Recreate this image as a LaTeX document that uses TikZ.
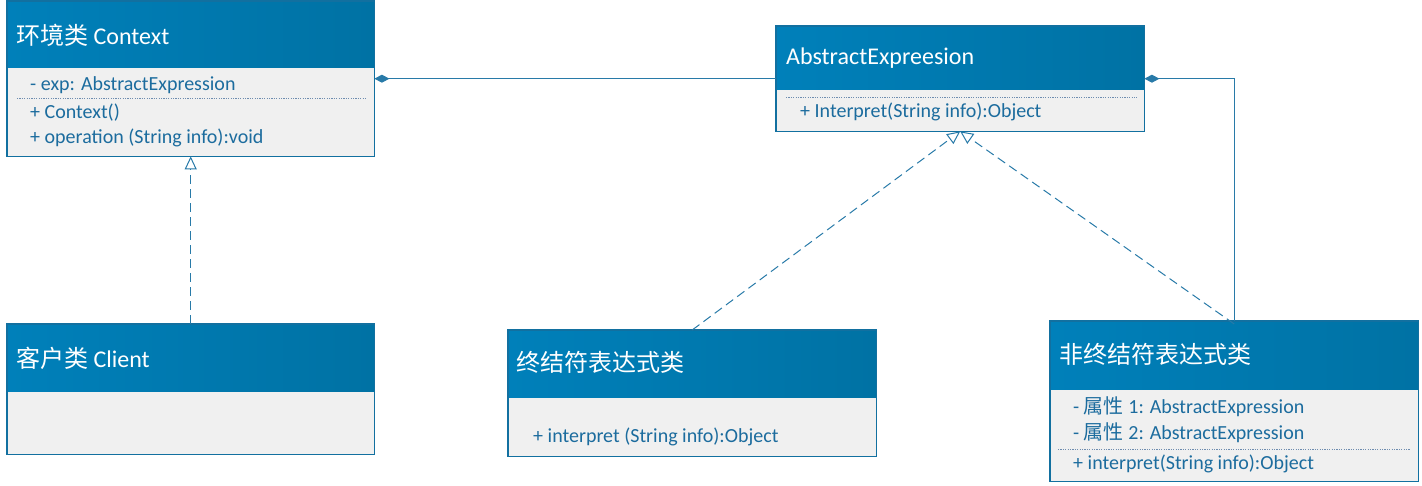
\documentclass[tikz,border=0pt]{standalone}
\usepackage{fontspec}
\setmainfont{Carlito}
\newfontfamily\cjkfont{Noto Sans CJK SC}
\newcommand\zh[1]{{\cjkfont #1}}
\usetikzlibrary{arrows.meta}
\definecolor{hdrL}{RGB}{0,128,186}
\definecolor{hdrR}{RGB}{0,114,164}
\definecolor{bodybg}{RGB}{240,240,240}
\definecolor{edge}{RGB}{18,112,160}
\definecolor{txt}{RGB}{28,108,158}
\definecolor{wire}{RGB}{40,122,168}
\definecolor{sep}{RGB}{110,140,175}
\tikzset{
  classbox/.style={rectangle, fill=bodybg, inner sep=0pt, anchor=north west},
  border/.style={draw=edge, line width=1.6pt},
  hdr/.style={left color=hdrL, right color=hdrR},
  title/.style={anchor=west, text=white, font=\fontsize{24}{27}\selectfont, inner sep=0pt},
  member/.style={anchor=west, text=txt, font=\fontsize{20}{23}\selectfont, inner sep=0pt},
  sepline/.style={draw=sep, line width=1pt, dash pattern=on 1.2pt off 1.2pt},
  wireline/.style={draw=wire, line width=1pt},
  realize/.style={wireline, dash pattern=on 9pt off 5pt, -{Triangle[open, length=13pt, width=12pt, fill=white, line width=1pt]}},
  compo/.style={wireline, {Diamond[length=15pt, width=8pt, fill=wire]}-},
}
\begin{document}
\begin{tikzpicture}[x=1pt, y=-1pt]
\useasboundingbox (0,0) rectangle (1422,486);

% Context
\node[classbox, minimum width=367pt, minimum height=155pt] (ctx) at (7,1) {};
\shade[hdr] (ctx.north west) rectangle ++(367,67);
\draw[border] (ctx.north west) rectangle (ctx.south east);
\node[title] (ctxT) at (16,35) {\zh{环境类} Context};
\node[member] (ctxA) at (30,85) {- exp: AbstractExpression};
\draw[sepline] (17,99) -- (366,99);
\node[member] (ctxM1) at (30,113) {+ Context()};
\node[member] (ctxM2) at (30,138) {+ operation (String info):void};

% AbstractExpression
\node[classbox, minimum width=368pt, minimum height=105pt] (ae) at (776,26) {};
\shade[hdr] (ae.north west) rectangle ++(368,64);
\draw[border] (ae.north west) rectangle (ae.south east);
\node[title] (aeT) at (786,58) {AbstractExpreesion};
\draw[sepline] (786,98) -- (1137,98);
\node[member] (aeM) at (800,112) {+ Interpret(String info):Object};

% Client
\node[classbox, minimum width=367pt, minimum height=130pt] (cl) at (7,324) {};
\shade[hdr] (cl.north west) rectangle ++(367,67);
\draw[border] (cl.north west) rectangle (cl.south east);
\node[title] (clT) at (16,358) {\zh{客户类} Client};

% Terminal expression
\node[classbox, minimum width=368pt, minimum height=126pt] (te) at (508,330) {};
\shade[hdr] (te.north west) rectangle ++(368,67);
\draw[border] (te.north west) rectangle (te.south east);
\node[title] (teT) at (516,362) {\zh{终结符表达式类}};
\node[member] (teM) at (533,437) {+ interpret (String info):Object};

% Nonterminal expression
\node[classbox, minimum width=368pt, minimum height=160pt] (nt) at (1050,321) {};
\shade[hdr] (nt.north west) rectangle ++(368,68);
\draw[border] (nt.north west) rectangle (nt.south east);
\node[title] (ntT) at (1059,354) {\zh{非终结符表达式类}};
\node[member] (ntA1) at (1073,407) {- \zh{属性} 1: AbstractExpression};
\node[member] (ntA2) at (1073,433) {- \zh{属性} 2: AbstractExpression};
\draw[sepline] (1058,449) -- (1410,449);
\node[member] (ntM) at (1073,464) {+ interpret(String info):Object};

% connectors
\draw[compo] (ctx.east) -- (ae.west);
\draw[compo] (ae.east) -| (nt.north);
\draw[realize] (cl.north) -- (ctx.south);
\draw[realize] (te.north) -- (ae.south);
\draw[realize] ([yshift=-3pt]nt.north) -- (ae.south);
\end{tikzpicture}
\end{document}
